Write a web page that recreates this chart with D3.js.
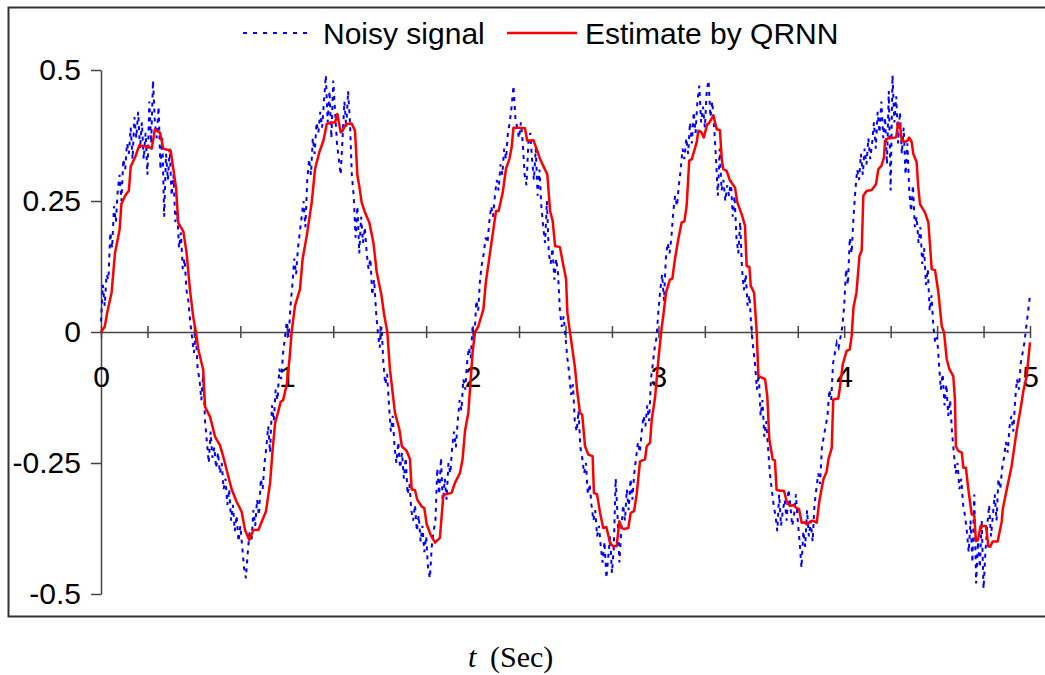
<!DOCTYPE html>
<html>
<head>
<meta charset="utf-8">
<script src="https://cdn.jsdelivr.net/npm/d3@7"></script>
<style>
  body { margin: 0; background: #fff; }
  text { font-family: "Liberation Sans", Arial, sans-serif; }
</style>
</head>
<body>
<div id="chart"></div>
<script>
// 1: DATA
// noisy signal, one sample every 0.01 s from t = 0 to t = 5
const noisyStep = 0.01;
const noisySignal = [
  0.02, 0.09, 0.05, 0.11, 0.10, 0.19, 0.16, 0.24, 0.21, 0.27,
  0.30, 0.25, 0.33, 0.31, 0.36, 0.34, 0.39, 0.33, 0.41, 0.37,
  0.42, 0.35, 0.40, 0.33, 0.38, 0.30, 0.44, 0.36, 0.48, 0.40,
  0.37, 0.43, 0.31, 0.37, 0.22, 0.34, 0.29, 0.35, 0.26, 0.30,
  0.21, 0.23, 0.16, 0.19, 0.12, 0.14, 0.08, 0.06, 0.02, -0.01,
  -0.04, 0.00, -0.07, -0.09, -0.13, -0.08, -0.17, -0.21, -0.25, -0.19,
  -0.24, -0.22, -0.26, -0.23, -0.27, -0.25, -0.30, -0.28, -0.33, -0.30,
  -0.36, -0.33, -0.38, -0.35, -0.40, -0.37, -0.41, -0.45, -0.47, -0.42,
  -0.38, -0.40, -0.34, -0.37, -0.32, -0.35, -0.28, -0.30, -0.25, -0.22,
  -0.18, -0.23, -0.14, -0.17, -0.11, -0.13, -0.07, -0.09, -0.04, -0.01,
  0.02, -0.01, 0.05, 0.09, 0.14, 0.11, 0.16, 0.19, 0.22, 0.25,
  0.20, 0.29, 0.33, 0.30, 0.37, 0.34, 0.40, 0.38, 0.42, 0.39,
  0.44, 0.49, 0.40, 0.46, 0.37, 0.48, 0.42, 0.36, 0.33, 0.30,
  0.37, 0.44, 0.39, 0.46, 0.40, 0.30, 0.26, 0.18, 0.24, 0.15,
  0.22, 0.17, 0.20, 0.15, 0.12, 0.14, 0.07, 0.10, 0.04, 0.00,
  -0.03, 0.01, -0.06, -0.10, -0.08, -0.14, -0.19, -0.16, -0.22, -0.25,
  -0.21, -0.26, -0.23, -0.28, -0.24, -0.31, -0.29, -0.34, -0.36, -0.33,
  -0.38, -0.35, -0.40, -0.37, -0.42, -0.39, -0.45, -0.47, -0.41, -0.38,
  -0.36, -0.26, -0.31, -0.24, -0.33, -0.28, -0.32, -0.25, -0.27, -0.22,
  -0.19, -0.22, -0.17, -0.13, -0.15, -0.09, -0.11, -0.06, -0.03, -0.05,
  0.01, -0.01, 0.06, 0.04, 0.10, 0.13, 0.15, 0.18, 0.17, 0.21,
  0.24, 0.22, 0.26, 0.29, 0.27, 0.32, 0.30, 0.35, 0.33, 0.38,
  0.40, 0.43, 0.47, 0.41, 0.39, 0.37, 0.40, 0.36, 0.30, 0.28,
  0.36, 0.38, 0.33, 0.29, 0.35, 0.26, 0.31, 0.24, 0.20, 0.17,
  0.25, 0.15, 0.13, 0.16, 0.10, 0.14, 0.11, 0.04, 0.01, 0.03,
  -0.01, -0.05, -0.08, -0.12, -0.10, -0.17, -0.19, -0.15, -0.22, -0.24,
  -0.27, -0.25, -0.31, -0.29, -0.33, -0.36, -0.34, -0.39, -0.37, -0.41,
  -0.44, -0.40, -0.47, -0.43, -0.39, -0.46, -0.41, -0.28, -0.35, -0.44,
  -0.38, -0.33, -0.36, -0.30, -0.34, -0.28, -0.32, -0.27, -0.24, -0.21,
  -0.23, -0.19, -0.16, -0.18, -0.14, -0.17, -0.09, -0.06, -0.03, -0.01,
  0.04, 0.08, 0.11, 0.06, 0.14, 0.17, 0.15, 0.18, 0.23, 0.26,
  0.24, 0.28, 0.31, 0.35, 0.33, 0.37, 0.34, 0.40, 0.36, 0.42,
  0.38, 0.44, 0.47, 0.40, 0.43, 0.39, 0.46, 0.48, 0.41, 0.44,
  0.39, 0.33, 0.26, 0.35, 0.27, 0.29, 0.25, 0.28, 0.26, 0.29,
  0.22, 0.26, 0.18, 0.15, 0.21, 0.12, 0.08, 0.11, 0.05, 0.07,
  0.01, -0.03, -0.06, -0.11, -0.08, -0.16, -0.13, -0.20, -0.17, -0.22,
  -0.27, -0.30, -0.33, -0.35, -0.38, -0.31, -0.37, -0.34, -0.32, -0.36,
  -0.30, -0.33, -0.37, -0.35, -0.31, -0.36, -0.40, -0.45, -0.38, -0.41,
  -0.34, -0.39, -0.36, -0.40, -0.33, -0.30, -0.27, -0.29, -0.22, -0.20,
  -0.18, -0.16, -0.11, -0.13, -0.06, -0.04, -0.02, -0.03, -0.01, 0.01,
  0.05, 0.12, 0.09, 0.18, 0.15, 0.22, 0.27, 0.31, 0.29, 0.34,
  0.30, 0.35, 0.32, 0.37, 0.33, 0.36, 0.40, 0.35, 0.42, 0.38,
  0.44, 0.37, 0.41, 0.32, 0.46, 0.27, 0.49, 0.40, 0.45, 0.36,
  0.42, 0.34, 0.39, 0.30, 0.36, 0.27, 0.23, 0.28, 0.20, 0.22,
  0.17, 0.20, 0.13, 0.16, 0.09, 0.12, 0.04, 0.07, 0.01, -0.02,
  -0.01, -0.06, -0.11, -0.08, -0.14, -0.10, -0.16, -0.13, -0.19, -0.23,
  -0.27, -0.25, -0.30, -0.28, -0.33, -0.35, -0.38, -0.42, -0.36, -0.44,
  -0.31, -0.48, -0.40, -0.45, -0.36, -0.49, -0.42, -0.37, -0.33, -0.39,
  -0.35, -0.31, -0.36, -0.28, -0.30, -0.26, -0.24, -0.21, -0.23, -0.18,
  -0.16, -0.19, -0.13, -0.09, -0.11, -0.06, -0.04, -0.02, 0.01, 0.04,
  0.07
];

// QRNN estimate, [t, value]
const estimatePoints = [
  [0, 0], [0.02, 0.01], [0.035, 0.04], [0.057, 0.075], [0.075, 0.15], [0.1, 0.195],
  [0.11, 0.245], [0.13, 0.26], [0.15, 0.27], [0.16, 0.316], [0.183, 0.333], [0.206, 0.356],
  [0.23, 0.355], [0.255, 0.354], [0.273, 0.35], [0.29, 0.387], [0.318, 0.38], [0.335, 0.35],
  [0.375, 0.346], [0.404, 0.275], [0.416, 0.208], [0.443, 0.192], [0.46, 0.153], [0.479, 0.08],
  [0.497, 0.027], [0.511, 0], [0.524, -0.034], [0.55, -0.072], [0.56, -0.143], [0.587, -0.162],
  [0.614, -0.2], [0.64, -0.216], [0.658, -0.238], [0.676, -0.263], [0.703, -0.3], [0.73, -0.324],
  [0.757, -0.343], [0.775, -0.378], [0.798, -0.397], [0.82, -0.378], [0.847, -0.378], [0.865, -0.362],
  [0.888, -0.342], [0.91, -0.288], [0.924, -0.224], [0.937, -0.174], [0.954, -0.152], [0.967, -0.133],
  [0.98, -0.13], [1.0, -0.1], [1.015, -0.05], [1.026, 0],
  [1.044, 0.05], [1.071, 0.082], [1.085, 0.139], [1.107, 0.183], [1.134, 0.247], [1.152, 0.311],
  [1.175, 0.343], [1.197, 0.365], [1.215, 0.397], [1.242, 0.4], [1.26, 0.4], [1.272, 0.416],
  [1.29, 0.381], [1.3, 0.384], [1.319, 0.397], [1.349, 0.398], [1.367, 0.384], [1.38, 0.298],
  [1.39, 0.279], [1.403, 0.247], [1.421, 0.228], [1.444, 0.209], [1.466, 0.171], [1.484, 0.114],
  [1.51, 0.069], [1.523, 0.035], [1.541, 0], [1.555, -0.071], [1.582, -0.154], [1.606, -0.186],
  [1.619, -0.218], [1.645, -0.227], [1.663, -0.243], [1.672, -0.3], [1.69, -0.302], [1.702, -0.32],
  [1.726, -0.333], [1.74, -0.336], [1.753, -0.367], [1.774, -0.387], [1.798, -0.402], [1.824, -0.393],
  [1.842, -0.313], [1.85, -0.31], [1.887, -0.307], [1.905, -0.288], [1.932, -0.269], [1.946, -0.243],
  [1.959, -0.189], [1.977, -0.154], [1.99, -0.09], [2.0, -0.039], [2.013, 0],
  [2.03, 0.01], [2.058, 0.043], [2.072, 0.097], [2.103, 0.174], [2.126, 0.231], [2.14, 0.231],
  [2.162, 0.266], [2.18, 0.312], [2.198, 0.33], [2.21, 0.352], [2.22, 0.39], [2.246, 0.39],
  [2.282, 0.389], [2.294, 0.365], [2.327, 0.366], [2.345, 0.349], [2.363, 0.33], [2.38, 0.317],
  [2.402, 0.301], [2.417, 0.231], [2.431, 0.212], [2.444, 0.164], [2.47, 0.162], [2.485, 0.133],
  [2.503, 0.101], [2.51, 0.037], [2.524, 0], [2.551, -0.068], [2.564, -0.116], [2.578, -0.154],
  [2.59, -0.158], [2.605, -0.218], [2.623, -0.234], [2.646, -0.237], [2.653, -0.307], [2.67, -0.31],
  [2.686, -0.345], [2.703, -0.374], [2.72, -0.372], [2.74, -0.403], [2.757, -0.409], [2.775, -0.409],
  [2.79, -0.361], [2.802, -0.374], [2.815, -0.376], [2.838, -0.374], [2.851, -0.345], [2.869, -0.342],
  [2.883, -0.31], [2.901, -0.247], [2.928, -0.243], [2.937, -0.218], [2.955, -0.211], [2.964, -0.167],
  [2.982, -0.125], [3.0, -0.052], [3.018, 0.01],
  [3.026, 0.03], [3.041, 0.075], [3.062, 0.1], [3.075, 0.102], [3.089, 0.139], [3.107, 0.177],
  [3.125, 0.209], [3.14, 0.211], [3.152, 0.241], [3.166, 0.327], [3.18, 0.33], [3.188, 0.34],
  [3.206, 0.362], [3.215, 0.384], [3.23, 0.382], [3.244, 0.371], [3.263, 0.397], [3.27, 0.397],
  [3.296, 0.413], [3.314, 0.387], [3.331, 0.385], [3.341, 0.33], [3.349, 0.311], [3.368, 0.307],
  [3.385, 0.289], [3.412, 0.276], [3.425, 0.247], [3.448, 0.225], [3.466, 0.203], [3.475, 0.126],
  [3.49, 0.124], [3.497, 0.088], [3.515, 0.075], [3.529, 0], [3.538, -0.084], [3.55, -0.086],
  [3.574, -0.09], [3.586, -0.122], [3.597, -0.205], [3.615, -0.243], [3.627, -0.245], [3.636, -0.301],
  [3.654, -0.303], [3.676, -0.303], [3.69, -0.323], [3.708, -0.332], [3.726, -0.33], [3.744, -0.336],
  [3.757, -0.338], [3.771, -0.364], [3.786, -0.363], [3.798, -0.367], [3.816, -0.362], [3.83, -0.36],
  [3.852, -0.364], [3.866, -0.323], [3.888, -0.281], [3.906, -0.266], [3.915, -0.243], [3.933, -0.221],
  [3.941, -0.129], [3.968, -0.127], [3.977, -0.106], [3.992, -0.062], [4.013, -0.036], [4.03, -0.033],
  [4.04, -0.008], [4.05, 0.047],
  [4.066, 0.075], [4.082, 0.145], [4.094, 0.155], [4.103, 0.26], [4.12, 0.269], [4.148, 0.271],
  [4.171, 0.282], [4.184, 0.311], [4.2, 0.317], [4.214, 0.333], [4.22, 0.365], [4.237, 0.37],
  [4.264, 0.37], [4.28, 0.372], [4.29, 0.4], [4.3, 0.395], [4.31, 0.365], [4.33, 0.363],
  [4.34, 0.365], [4.35, 0.371], [4.363, 0.363], [4.372, 0.34], [4.39, 0.324], [4.398, 0.279],
  [4.408, 0.244], [4.435, 0.228], [4.453, 0.209], [4.471, 0.12], [4.489, 0.118], [4.507, 0.075],
  [4.525, 0.011], [4.537, 0], [4.552, -0.052], [4.566, -0.071], [4.587, -0.084], [4.596, -0.129],
  [4.601, -0.218], [4.614, -0.227], [4.633, -0.23], [4.641, -0.259], [4.655, -0.259], [4.668, -0.3],
  [4.686, -0.348], [4.7, -0.35], [4.709, -0.399], [4.72, -0.397], [4.734, -0.37], [4.763, -0.37],
  [4.776, -0.409], [4.785, -0.41], [4.799, -0.4], [4.826, -0.4], [4.848, -0.361], [4.853, -0.339],
  [4.875, -0.3], [4.901, -0.256], [4.928, -0.189], [4.95, -0.145], [4.964, -0.113], [4.982, -0.084],
  [5.0, -0.02]
];

const yTicks = [-0.5, -0.25, 0, 0.25, 0.5];
const xTicks = [0, 0.25, 0.5, 0.75, 1, 1.25, 1.5, 1.75, 2, 2.25, 2.5, 2.75, 3, 3.25, 3.5, 3.75, 4, 4.25, 4.5, 4.75, 5];
const xTickLabels = [0, 1, 2, 3, 4, 5];
const seriesNames = ["Noisy signal", "Estimate by QRNN"];

// 2: SVG + FRAME
const W = 1045, H = 675;
const svg = d3.select("#chart").append("svg")
    .attr("width", W)
    .attr("height", H);

svg.append("rect")
    .attr("x", 8.5).attr("y", 7.5)
    .attr("width", 1045).attr("height", 609)
    .attr("fill", "none")
    .attr("stroke", "#333")
    .attr("stroke-width", 2);

// 3: SCALES
const x = d3.scaleLinear().domain([0, 5]).range([101, 1030]);
const y = d3.scaleLinear().domain([-0.5, 0.5]).range([594, 70]);

// 4: AXES
const yAxis = svg.append("g")
    .attr("transform", "translate(101,0)")
    .call(d3.axisLeft(y).tickValues(yTicks).tickSize(10).tickSizeOuter(0).tickPadding(10).tickFormat(d => String(d)));

const xAxis = svg.append("g")
    .attr("transform", `translate(0,${y(0)})`)
    .call(d3.axisBottom(x).tickValues(xTicks).tickSize(6).tickSizeOuter(0)
        .tickFormat(d => xTickLabels.includes(d) ? String(d) : ""));

xAxis.selectAll(".tick line").attr("y1", -6).attr("y2", 6);
xAxis.selectAll(".tick text").attr("y", 34);

[xAxis, yAxis].forEach(g => {
    g.select(".domain").attr("stroke", "#444").attr("stroke-width", 1.5);
    g.selectAll(".tick line").attr("stroke", "#444").attr("stroke-width", 1.5);
    g.selectAll(".tick text")
        .attr("fill", "#000")
        .style("font-size", "30px")
        .style("font-family", "'Liberation Sans', Arial, sans-serif");
});

// 5: LINES
const noisyLine = d3.line()
    .x((d, i) => x(i * noisyStep))
    .y(d => y(d));

const estimateLine = d3.line()
    .x(d => x(d[0]))
    .y(d => y(d[1]));

svg.append("path")
    .attr("d", noisyLine(noisySignal))
    .attr("fill", "none")
    .attr("stroke", "#0000ff")
    .attr("stroke-width", 2)
    .attr("stroke-dasharray", "4,5");

svg.append("path")
    .attr("d", estimateLine(estimatePoints))
    .attr("fill", "none")
    .attr("stroke", "#ff0000")
    .attr("stroke-width", 2.5)
    .attr("stroke-linejoin", "round");

// 6: LEGEND
const legendX = [243, 507];
const legend = svg.selectAll(".legend")
    .data(seriesNames)
    .enter()
    .append("g")
    .attr("class", "legend")
    .attr("transform", (d, i) => `translate(${legendX[i]},33)`);

legend.append("line")
    .attr("x1", 0).attr("x2", 70)
    .attr("stroke", (d, i) => i === 0 ? "#0000ff" : "#ff0000")
    .attr("stroke-width", (d, i) => i === 0 ? 2.2 : 2.5)
    .attr("stroke-dasharray", (d, i) => i === 0 ? "4,6" : null);

legend.append("text")
    .attr("x", (d, i) => i === 0 ? 80 : 78)
    .attr("y", 11)
    .style("font-size", "30px")
    .text(d => d);

// 7: X TITLE
svg.append("text")
    .attr("x", 468).attr("y", 667)
    .style("font-family", "'Liberation Serif', 'Times New Roman', serif")
    .style("font-style", "italic")
    .style("font-size", "30px")
    .text("t");

svg.append("text")
    .attr("x", 490).attr("y", 667)
    .style("font-family", "'Liberation Serif', 'Times New Roman', serif")
    .style("font-size", "30px")
    .text("(Sec)");
</script>
</body>
</html>
